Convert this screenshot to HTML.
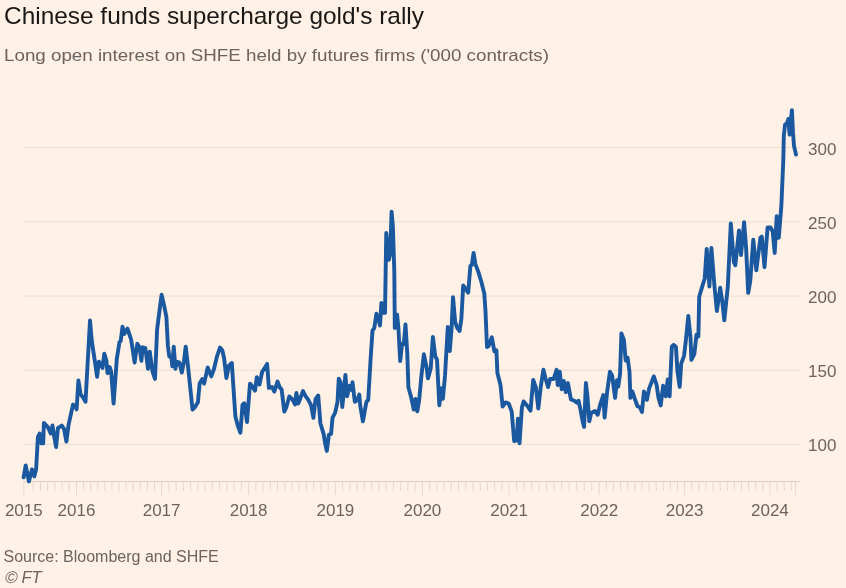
<!DOCTYPE html>
<html><head><meta charset="utf-8"><style>
html,body{margin:0;padding:0;background:#FFF1E5;}
body{width:846px;height:588px;position:relative;overflow:hidden;font-family:"Liberation Sans",sans-serif;}
svg text{font-family:"Liberation Sans",sans-serif;}
</style></head><body>
<svg width="846" height="588" viewBox="0 0 846 588" style="position:absolute;left:0;top:0;will-change:transform"><line x1="24" y1="147.6" x2="800" y2="147.6" stroke="#EADDD2" stroke-width="1"/><line x1="24" y1="221.8" x2="800" y2="221.8" stroke="#EADDD2" stroke-width="1"/><line x1="24" y1="296.1" x2="800" y2="296.1" stroke="#EADDD2" stroke-width="1"/><line x1="24" y1="370.2" x2="800" y2="370.2" stroke="#EADDD2" stroke-width="1"/><line x1="24" y1="444.3" x2="800" y2="444.3" stroke="#EADDD2" stroke-width="1"/><line x1="24" y1="481.5" x2="800" y2="481.5" stroke="#DACEC4" stroke-width="1"/><line x1="69.3" y1="481.5" x2="69.3" y2="491" stroke="#E4D8CE" stroke-width="1"/><line x1="62.1" y1="481.5" x2="62.1" y2="491" stroke="#E4D8CE" stroke-width="1"/><line x1="54.9" y1="481.5" x2="54.9" y2="491" stroke="#E4D8CE" stroke-width="1"/><line x1="47.7" y1="481.5" x2="47.7" y2="491" stroke="#E4D8CE" stroke-width="1"/><line x1="40.5" y1="481.5" x2="40.5" y2="491" stroke="#E4D8CE" stroke-width="1"/><line x1="33.3" y1="481.5" x2="33.3" y2="491" stroke="#E4D8CE" stroke-width="1"/><line x1="83.59" y1="481.5" x2="83.59" y2="491" stroke="#E4D8CE" stroke-width="1"/><line x1="90.68" y1="481.5" x2="90.68" y2="491" stroke="#E4D8CE" stroke-width="1"/><line x1="97.78" y1="481.5" x2="97.78" y2="491" stroke="#E4D8CE" stroke-width="1"/><line x1="104.87" y1="481.5" x2="104.87" y2="491" stroke="#E4D8CE" stroke-width="1"/><line x1="111.96" y1="481.5" x2="111.96" y2="491" stroke="#E4D8CE" stroke-width="1"/><line x1="119.05" y1="481.5" x2="119.05" y2="491" stroke="#E4D8CE" stroke-width="1"/><line x1="126.14" y1="481.5" x2="126.14" y2="491" stroke="#E4D8CE" stroke-width="1"/><line x1="133.23" y1="481.5" x2="133.23" y2="491" stroke="#E4D8CE" stroke-width="1"/><line x1="140.32" y1="481.5" x2="140.32" y2="491" stroke="#E4D8CE" stroke-width="1"/><line x1="147.42" y1="481.5" x2="147.42" y2="491" stroke="#E4D8CE" stroke-width="1"/><line x1="154.51" y1="481.5" x2="154.51" y2="491" stroke="#E4D8CE" stroke-width="1"/><line x1="168.85" y1="481.5" x2="168.85" y2="491" stroke="#E4D8CE" stroke-width="1"/><line x1="176.1" y1="481.5" x2="176.1" y2="491" stroke="#E4D8CE" stroke-width="1"/><line x1="183.35" y1="481.5" x2="183.35" y2="491" stroke="#E4D8CE" stroke-width="1"/><line x1="190.6" y1="481.5" x2="190.6" y2="491" stroke="#E4D8CE" stroke-width="1"/><line x1="197.85" y1="481.5" x2="197.85" y2="491" stroke="#E4D8CE" stroke-width="1"/><line x1="205.1" y1="481.5" x2="205.1" y2="491" stroke="#E4D8CE" stroke-width="1"/><line x1="212.35" y1="481.5" x2="212.35" y2="491" stroke="#E4D8CE" stroke-width="1"/><line x1="219.6" y1="481.5" x2="219.6" y2="491" stroke="#E4D8CE" stroke-width="1"/><line x1="226.85" y1="481.5" x2="226.85" y2="491" stroke="#E4D8CE" stroke-width="1"/><line x1="234.1" y1="481.5" x2="234.1" y2="491" stroke="#E4D8CE" stroke-width="1"/><line x1="241.35" y1="481.5" x2="241.35" y2="491" stroke="#E4D8CE" stroke-width="1"/><line x1="255.83" y1="481.5" x2="255.83" y2="491" stroke="#E4D8CE" stroke-width="1"/><line x1="263.07" y1="481.5" x2="263.07" y2="491" stroke="#E4D8CE" stroke-width="1"/><line x1="270.3" y1="481.5" x2="270.3" y2="491" stroke="#E4D8CE" stroke-width="1"/><line x1="277.53" y1="481.5" x2="277.53" y2="491" stroke="#E4D8CE" stroke-width="1"/><line x1="284.77" y1="481.5" x2="284.77" y2="491" stroke="#E4D8CE" stroke-width="1"/><line x1="292" y1="481.5" x2="292" y2="491" stroke="#E4D8CE" stroke-width="1"/><line x1="299.23" y1="481.5" x2="299.23" y2="491" stroke="#E4D8CE" stroke-width="1"/><line x1="306.47" y1="481.5" x2="306.47" y2="491" stroke="#E4D8CE" stroke-width="1"/><line x1="313.7" y1="481.5" x2="313.7" y2="491" stroke="#E4D8CE" stroke-width="1"/><line x1="320.93" y1="481.5" x2="320.93" y2="491" stroke="#E4D8CE" stroke-width="1"/><line x1="328.17" y1="481.5" x2="328.17" y2="491" stroke="#E4D8CE" stroke-width="1"/><line x1="342.65" y1="481.5" x2="342.65" y2="491" stroke="#E4D8CE" stroke-width="1"/><line x1="349.9" y1="481.5" x2="349.9" y2="491" stroke="#E4D8CE" stroke-width="1"/><line x1="357.15" y1="481.5" x2="357.15" y2="491" stroke="#E4D8CE" stroke-width="1"/><line x1="364.4" y1="481.5" x2="364.4" y2="491" stroke="#E4D8CE" stroke-width="1"/><line x1="371.65" y1="481.5" x2="371.65" y2="491" stroke="#E4D8CE" stroke-width="1"/><line x1="378.9" y1="481.5" x2="378.9" y2="491" stroke="#E4D8CE" stroke-width="1"/><line x1="386.15" y1="481.5" x2="386.15" y2="491" stroke="#E4D8CE" stroke-width="1"/><line x1="393.4" y1="481.5" x2="393.4" y2="491" stroke="#E4D8CE" stroke-width="1"/><line x1="400.65" y1="481.5" x2="400.65" y2="491" stroke="#E4D8CE" stroke-width="1"/><line x1="407.9" y1="481.5" x2="407.9" y2="491" stroke="#E4D8CE" stroke-width="1"/><line x1="415.15" y1="481.5" x2="415.15" y2="491" stroke="#E4D8CE" stroke-width="1"/><line x1="429.62" y1="481.5" x2="429.62" y2="491" stroke="#E4D8CE" stroke-width="1"/><line x1="436.85" y1="481.5" x2="436.85" y2="491" stroke="#E4D8CE" stroke-width="1"/><line x1="444.07" y1="481.5" x2="444.07" y2="491" stroke="#E4D8CE" stroke-width="1"/><line x1="451.3" y1="481.5" x2="451.3" y2="491" stroke="#E4D8CE" stroke-width="1"/><line x1="458.52" y1="481.5" x2="458.52" y2="491" stroke="#E4D8CE" stroke-width="1"/><line x1="465.75" y1="481.5" x2="465.75" y2="491" stroke="#E4D8CE" stroke-width="1"/><line x1="472.98" y1="481.5" x2="472.98" y2="491" stroke="#E4D8CE" stroke-width="1"/><line x1="480.2" y1="481.5" x2="480.2" y2="491" stroke="#E4D8CE" stroke-width="1"/><line x1="487.43" y1="481.5" x2="487.43" y2="491" stroke="#E4D8CE" stroke-width="1"/><line x1="494.65" y1="481.5" x2="494.65" y2="491" stroke="#E4D8CE" stroke-width="1"/><line x1="501.88" y1="481.5" x2="501.88" y2="491" stroke="#E4D8CE" stroke-width="1"/><line x1="516.61" y1="481.5" x2="516.61" y2="491" stroke="#E4D8CE" stroke-width="1"/><line x1="524.12" y1="481.5" x2="524.12" y2="491" stroke="#E4D8CE" stroke-width="1"/><line x1="531.62" y1="481.5" x2="531.62" y2="491" stroke="#E4D8CE" stroke-width="1"/><line x1="539.13" y1="481.5" x2="539.13" y2="491" stroke="#E4D8CE" stroke-width="1"/><line x1="546.64" y1="481.5" x2="546.64" y2="491" stroke="#E4D8CE" stroke-width="1"/><line x1="554.15" y1="481.5" x2="554.15" y2="491" stroke="#E4D8CE" stroke-width="1"/><line x1="561.66" y1="481.5" x2="561.66" y2="491" stroke="#E4D8CE" stroke-width="1"/><line x1="569.17" y1="481.5" x2="569.17" y2="491" stroke="#E4D8CE" stroke-width="1"/><line x1="576.68" y1="481.5" x2="576.68" y2="491" stroke="#E4D8CE" stroke-width="1"/><line x1="584.18" y1="481.5" x2="584.18" y2="491" stroke="#E4D8CE" stroke-width="1"/><line x1="591.69" y1="481.5" x2="591.69" y2="491" stroke="#E4D8CE" stroke-width="1"/><line x1="606.32" y1="481.5" x2="606.32" y2="491" stroke="#E4D8CE" stroke-width="1"/><line x1="613.43" y1="481.5" x2="613.43" y2="491" stroke="#E4D8CE" stroke-width="1"/><line x1="620.55" y1="481.5" x2="620.55" y2="491" stroke="#E4D8CE" stroke-width="1"/><line x1="627.67" y1="481.5" x2="627.67" y2="491" stroke="#E4D8CE" stroke-width="1"/><line x1="634.78" y1="481.5" x2="634.78" y2="491" stroke="#E4D8CE" stroke-width="1"/><line x1="641.9" y1="481.5" x2="641.9" y2="491" stroke="#E4D8CE" stroke-width="1"/><line x1="649.02" y1="481.5" x2="649.02" y2="491" stroke="#E4D8CE" stroke-width="1"/><line x1="656.13" y1="481.5" x2="656.13" y2="491" stroke="#E4D8CE" stroke-width="1"/><line x1="663.25" y1="481.5" x2="663.25" y2="491" stroke="#E4D8CE" stroke-width="1"/><line x1="670.37" y1="481.5" x2="670.37" y2="491" stroke="#E4D8CE" stroke-width="1"/><line x1="677.48" y1="481.5" x2="677.48" y2="491" stroke="#E4D8CE" stroke-width="1"/><line x1="691.71" y1="481.5" x2="691.71" y2="491" stroke="#E4D8CE" stroke-width="1"/><line x1="698.82" y1="481.5" x2="698.82" y2="491" stroke="#E4D8CE" stroke-width="1"/><line x1="705.92" y1="481.5" x2="705.92" y2="491" stroke="#E4D8CE" stroke-width="1"/><line x1="713.03" y1="481.5" x2="713.03" y2="491" stroke="#E4D8CE" stroke-width="1"/><line x1="720.14" y1="481.5" x2="720.14" y2="491" stroke="#E4D8CE" stroke-width="1"/><line x1="727.25" y1="481.5" x2="727.25" y2="491" stroke="#E4D8CE" stroke-width="1"/><line x1="734.36" y1="481.5" x2="734.36" y2="491" stroke="#E4D8CE" stroke-width="1"/><line x1="741.47" y1="481.5" x2="741.47" y2="491" stroke="#E4D8CE" stroke-width="1"/><line x1="748.58" y1="481.5" x2="748.58" y2="491" stroke="#E4D8CE" stroke-width="1"/><line x1="755.68" y1="481.5" x2="755.68" y2="491" stroke="#E4D8CE" stroke-width="1"/><line x1="762.79" y1="481.5" x2="762.79" y2="491" stroke="#E4D8CE" stroke-width="1"/><line x1="777.01" y1="481.5" x2="777.01" y2="491" stroke="#E4D8CE" stroke-width="1"/><line x1="784.12" y1="481.5" x2="784.12" y2="491" stroke="#E4D8CE" stroke-width="1"/><line x1="791.22" y1="481.5" x2="791.22" y2="491" stroke="#E4D8CE" stroke-width="1"/><line x1="23.8" y1="481.5" x2="23.8" y2="495" stroke="#E4D8CE" stroke-width="1"/><line x1="76.5" y1="481.5" x2="76.5" y2="495" stroke="#E4D8CE" stroke-width="1"/><line x1="161.6" y1="481.5" x2="161.6" y2="495" stroke="#E4D8CE" stroke-width="1"/><line x1="248.6" y1="481.5" x2="248.6" y2="495" stroke="#E4D8CE" stroke-width="1"/><line x1="335.4" y1="481.5" x2="335.4" y2="495" stroke="#E4D8CE" stroke-width="1"/><line x1="422.4" y1="481.5" x2="422.4" y2="495" stroke="#E4D8CE" stroke-width="1"/><line x1="509.1" y1="481.5" x2="509.1" y2="495" stroke="#E4D8CE" stroke-width="1"/><line x1="599.2" y1="481.5" x2="599.2" y2="495" stroke="#E4D8CE" stroke-width="1"/><line x1="684.6" y1="481.5" x2="684.6" y2="495" stroke="#E4D8CE" stroke-width="1"/><line x1="769.9" y1="481.5" x2="769.9" y2="495" stroke="#E4D8CE" stroke-width="1"/><line x1="795.4" y1="481.5" x2="795.4" y2="495" stroke="#E4D8CE" stroke-width="1"/><path d="M23.6 477.3 L25.7 465.4 L28.9 481.4 L32 469.3 L34.3 476.4 L36.1 469.3 L37.9 437.1 L39.6 433.6 L41.4 443.4 L43.2 443.4 L43.9 422.9 L48 427.3 L50.7 433.6 L52.5 425.5 L54.3 437.1 L56.1 447 L57.9 428.2 L61.8 425.5 L64.1 429.1 L66.4 441.6 L68.6 424.6 L73 404.6 L75.4 405.9 L76.6 409.5 L78.4 380.4 L80.7 394.6 L82.9 397.3 L85.5 401.8 L90 320.5 L91.8 341.1 L94.5 358.9 L97.1 376.8 L98.9 361.6 L100.7 364.3 L102.5 367.9 L104.3 353.6 L106.4 360.7 L107.5 373.2 L109.6 367 L111.1 371.4 L113.6 403.6 L116.8 358.9 L119.5 342 L120.7 341 L122.5 326.8 L124.3 333.9 L127.5 328.6 L131.1 339.3 L134.6 362.5 L137.3 343.75 L139.6 347.3 L141.4 360.7 L142.7 347.3 L145.4 348.2 L148 368.75 L149.8 351.8 L152.5 371.4 L155 379 L157.1 329.6 L159.8 308.2 L161.6 294.8 L164.3 306.4 L166.4 317.1 L167.9 345.7 L169.3 356.4 L171.4 357.3 L172.3 366.25 L173.75 346.6 L175.4 368.9 L177.1 361.8 L179.5 362.7 L181.8 372.5 L183.9 361.8 L185.7 346.6 L187.9 365.4 L190.5 390 L192.5 409.5 L195.2 406.8 L197.9 402.3 L199.6 383.6 L202.3 379.1 L204.1 383.6 L207.7 367.5 L211.25 376.4 L213.9 369.3 L217 356.4 L220 347.5 L222.3 350.2 L224.1 358.2 L226.4 378 L228.8 366 L231.8 363 L235.4 416.6 L238 426.4 L240.4 432.7 L242.5 405 L244.3 403.2 L247 422 L250 383.6 L252.3 386.25 L255 390.7 L256.8 377.3 L259.5 384.5 L262.1 372 L267.1 363.9 L268.9 388 L272 387.1 L274.3 391.6 L277.5 381.5 L279.8 387.5 L281.6 389.3 L284.3 411.6 L286.4 407.1 L289.3 396.4 L292.3 399.1 L295 404.5 L296.4 392.9 L298.2 403.6 L300.4 398.2 L303 391.1 L305.7 396.4 L308.4 400 L311.1 405.4 L313.4 417.9 L315.5 399.1 L318.2 395.5 L320.4 423.2 L323.6 433.9 L325.4 444.6 L326.8 450.9 L328.9 434.8 L331.1 433.9 L332.5 417.9 L335.2 412.5 L337.5 401.8 L338.75 378.6 L340.5 382.1 L342.3 407.1 L345.4 375 L347.1 396.4 L349.5 385.7 L351.8 390.2 L352.5 382.1 L354.8 401.8 L357.5 400 L359.3 394.6 L360.2 405.4 L362.9 421.4 L366.4 401.8 L368.2 400 L370.7 357.5 L372.5 330.7 L374.3 328 L376.4 313.75 L377.9 317.3 L380 325.4 L381.4 303 L383.2 312.9 L385 312.9 L386.25 233 L387.5 244.6 L388.9 259.8 L390.2 253.6 L391.6 211.6 L392.9 226.8 L394.3 271.4 L394.8 328 L397.1 314.6 L398.4 328 L400.2 361.1 L402.1 343.6 L403.75 344.1 L405.5 324.5 L407.3 353.9 L408.4 387.3 L411.1 397.1 L413.75 409.6 L415.5 398.9 L417.3 411.4 L419.1 400.7 L421.4 375.7 L423.9 354.3 L426.8 368.6 L428 378.4 L430.7 368.6 L432.9 337 L435.2 356.1 L437 359.6 L439.3 405.2 L441.4 388.2 L442.9 398.9 L445 375.7 L447.8 327 L449.8 351 L451.6 328 L453 297.1 L455.2 322.1 L457 327.5 L459.6 331 L461.4 318.6 L463.2 285.5 L465.9 289.1 L468.2 292.7 L470.4 265.9 L471.8 265 L473.6 252.9 L475.4 264.1 L478.4 272.1 L481.4 282 L484.3 293.6 L485.5 311.4 L487 347 L488.6 346 L491.8 337.3 L494.4 351.4 L496.4 350.4 L497.4 372.9 L500.5 385.1 L502.6 406.5 L505.6 402.4 L508.7 403.5 L511.7 411.6 L514.2 441.2 L516.8 440.2 L517.9 418.8 L519.5 443.3 L521.9 407.6 L523.6 401.4 L527 405.5 L530.5 410.6 L533.2 380 L535.8 387.1 L538.3 408.6 L540.7 387.1 L543.4 369.8 L545.4 378 L548.1 387.1 L550.1 379 L553.6 379 L556.6 369.8 L557.7 385.1 L559.7 371.8 L561.7 389.2 L563.8 381 L565.8 392.2 L567.9 383.1 L570.9 399.4 L572.1 399.8 L574.3 400.7 L576.6 402.6 L578.5 400.7 L580 407.2 L582.8 422.2 L584.1 426.9 L585.9 382.9 L587.4 396 L589.3 421.3 L591.2 412.9 L594.9 411 L597.7 414.7 L600.5 403.5 L603.3 395.1 L604.6 417.5 L607.1 392.3 L609.9 371.7 L612.1 375.5 L615.1 397.9 L617 380.1 L618.3 386.7 L620.1 373.6 L621.4 333.4 L623.9 340 L625.7 360.5 L627.6 357.7 L629.5 371.7 L630.4 397.9 L632.3 391.4 L635.1 399.8 L637.5 406.3 L639.8 407.2 L642 411.9 L643.9 391.4 L646.9 399.8 L649.1 388.6 L653.8 376.4 L656.6 384.8 L658.5 397.9 L660.7 405.4 L663.1 385.7 L665.8 396.3 L667.7 379.4 L669.6 396.3 L671.8 346.7 L673.7 344.9 L675.9 346.7 L677.4 371 L679.7 386.9 L681.2 363.6 L684 356.1 L685.8 341.1 L688.3 315.9 L690.5 337.4 L691.4 359.8 L694.3 354.2 L696.5 334.6 L698.4 336.4 L699.2 296.8 L702.2 286.6 L704.7 278.5 L706.7 248.9 L709.4 286.6 L711.4 247.9 L714.5 286.6 L716.9 311.1 L720.2 287.7 L722.2 300.9 L724.3 320.3 L727.8 286.6 L730.8 223.4 L733.9 262.1 L735.3 265.2 L739 230.5 L741 255 L744.1 222.3 L746.1 247.9 L748.2 292.8 L750.2 281.5 L753.3 239.7 L756.3 270.3 L760.4 237.7 L761.8 236.6 L764.5 267.2 L767.6 227.4 L770.6 227.4 L772.7 231.5 L774.7 253 L776.7 216.2 L778.8 237.7 L781.4 205 L783.3 160 L783.8 135.7 L785.1 124.5 L787.1 123 L788.4 118.9 L789.6 134.7 L790.9 119.9 L791.9 110.2 L793 132.7 L794 145.9 L796 154.6" fill="none" stroke="#1A58A0" stroke-width="3.9" stroke-linejoin="round" stroke-linecap="round"/><text x="808" y="154.5" font-size="17" fill="#6A6460">300</text><text x="808" y="228.7" font-size="17" fill="#6A6460">250</text><text x="808" y="303" font-size="17" fill="#6A6460">200</text><text x="808" y="377.1" font-size="17" fill="#6A6460">150</text><text x="808" y="451.2" font-size="17" fill="#6A6460">100</text><text x="23.8" y="515.5" font-size="17" fill="#6A6460" text-anchor="middle">2015</text><text x="76.5" y="515.5" font-size="17" fill="#6A6460" text-anchor="middle">2016</text><text x="161.6" y="515.5" font-size="17" fill="#6A6460" text-anchor="middle">2017</text><text x="248.6" y="515.5" font-size="17" fill="#6A6460" text-anchor="middle">2018</text><text x="335.4" y="515.5" font-size="17" fill="#6A6460" text-anchor="middle">2019</text><text x="422.4" y="515.5" font-size="17" fill="#6A6460" text-anchor="middle">2020</text><text x="509.1" y="515.5" font-size="17" fill="#6A6460" text-anchor="middle">2021</text><text x="599.2" y="515.5" font-size="17" fill="#6A6460" text-anchor="middle">2022</text><text x="684.6" y="515.5" font-size="17" fill="#6A6460" text-anchor="middle">2023</text><text x="769.9" y="515.5" font-size="17" fill="#6A6460" text-anchor="middle">2024</text><text x="4" y="24" font-size="24" fill="#1A1817" textLength="420" lengthAdjust="spacingAndGlyphs">Chinese funds supercharge gold's rally</text><text x="4" y="60.8" font-size="17" fill="#6A6460" textLength="545" lengthAdjust="spacingAndGlyphs">Long open interest on SHFE held by futures firms ('000 contracts)</text><text x="3.5" y="561.5" font-size="16" fill="#6A6460">Source: Bloomberg and SHFE</text><text transform="translate(4.2 582.8) skewX(-10)" x="0" y="0" font-size="17" fill="#6A6460">©</text><text x="21.5" y="582.8" font-size="16.5" fill="#6A6460" font-style="italic">FT</text></svg>
</body></html>
